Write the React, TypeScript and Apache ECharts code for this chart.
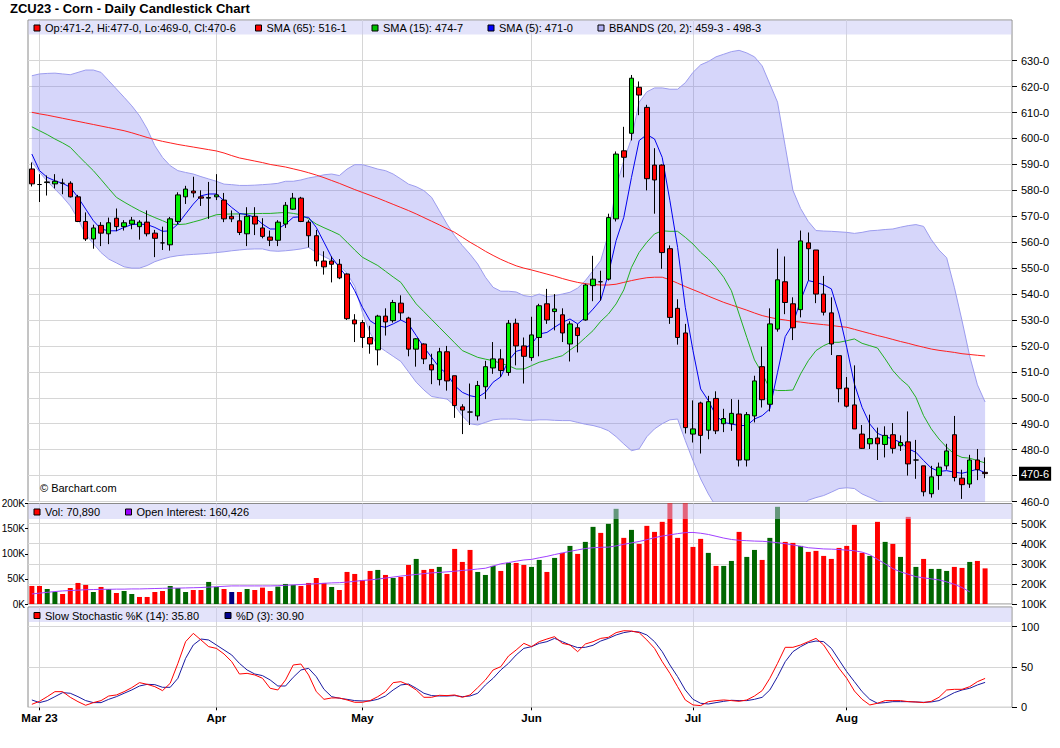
import React, { useEffect, useRef } from "react";
import * as echarts from "echarts";

// ---------- categories ----------
const TRADING_DAYS: [string, number[]][] = [
  ["2023-02", [28]],
  ["2023-03", [1, 2, 3, 6, 7, 8, 9, 10, 13, 14, 15, 16, 17, 20, 21, 22, 23, 24, 27, 28, 29, 30, 31]],
  ["2023-04", [3, 4, 5, 6, 10, 11, 12, 13, 14, 17, 18, 19, 20, 21, 24, 25, 26, 27, 28]],
  ["2023-05", [1, 2, 3, 4, 5, 8, 9, 10, 11, 12, 15, 16, 17, 18, 19, 22, 23, 24, 25, 26, 30, 31]],
  ["2023-06", [1, 2, 5, 6, 7, 8, 9, 12, 13, 14, 15, 16, 20, 21, 22, 23, 26, 27, 28, 29, 30]],
  ["2023-07", [3, 5, 6, 7, 10, 11, 12, 13, 14, 17, 18, 19, 20, 21, 24, 25, 26, 27, 28, 31]],
  ["2023-08", [1, 2, 3, 4, 7, 8, 9, 10, 11, 14, 15, 16, 17, 18, 21, 22, 23, 24, 25]],
];
const DATES: string[] = TRADING_DAYS.flatMap(([m, ds]) => ds.map((d) => `${m}-${String(d).padStart(2, "0")}`));
const PAD_CATEGORIES = ["pad-1", "pad-2", "pad-3"];
const CATEGORIES = [...DATES, ...PAD_CATEGORIES];
const MONTH_NAMES = ["Jan", "Feb", "Mar", "Apr", "May", "Jun", "Jul", "Aug", "Sep", "Oct", "Nov", "Dec"];

// ---------- axis tick values ----------
const PRICE_TICKS = [460, 470, 480, 490, 500, 510, 520, 530, 540, 550, 560, 570, 580, 590, 600, 610, 620, 630];
const VOL_TICKS = [0, 50000, 100000, 150000, 200000];
const OI_TICKS = [100, 200, 300, 400, 500];
const STOCH_TICKS = [0, 50, 100];

// ---------- price data ----------
const OPEN = [
  588.25, 582.25, 583, 582.5, 582.75, 582.75, 577.5, 568, 561.25, 566.5,
  563.25, 569.25, 566, 567, 566, 567.75, 563.5, 559.75, 559, 568,
  577.5, 579.75, 577.5, 577, 577.5, 576.25, 570, 568.25, 563.25, 570,
  565.5, 562, 560.75, 567, 572.75, 577, 567.75, 562.5, 552.75, 552.75,
  551.5, 547.75, 530, 529, 523.25, 518.5, 531.5, 529.75, 536.5, 530.75,
  518.75, 520.75, 512.75, 507, 517.75, 508.5, 496.5, 494.5, 493, 504.25,
  511.5, 515, 509.75, 528.75, 520, 515.5, 523.25, 536.25, 533.25, 532,
  520.75, 527, 530, 543.25, 544.75, 545.75, 569, 595.25, 602, 619.75,
  612, 589.75, 589.75, 557.5, 534.5, 525, 486, 498, 487.5, 499.75,
  490, 490, 493.75, 476, 493, 512, 497.5, 526.5, 544.75, 536.25,
  534, 559.75, 557, 540, 532.75, 516.25, 503.75, 497.25, 486, 482.25,
  484.5, 482, 485.75, 481.5, 483, 476, 473.75, 463, 470, 473.75,
  485.75, 469, 466.75, 476, 471.25,
];
const HIGH = [
  590.75, 586.25, 585.75, 586.25, 584.5, 583.5, 578.25, 571.5, 566.75, 567.75,
  569.5, 573, 568.5, 569.75, 568.5, 572.25, 564.75, 566, 569.75, 579.25,
  581.75, 585.25, 580, 583.25, 586.25, 579, 572.25, 571, 573.5, 573.5,
  569.25, 564.5, 568.5, 575.5, 579, 577.5, 568.5, 564.75, 556.5, 554.5,
  553.5, 548, 532.25, 530, 527.75, 532, 534.5, 537.75, 539.5, 531.25,
  523, 521, 517, 519.25, 520, 508.5, 497.5, 505.5, 506.5, 514.25,
  521.5, 518.75, 530, 530.5, 523.25, 531.25, 536.25, 542, 540, 534.5,
  529.5, 528.5, 544, 554.75, 549, 571, 595, 604.5, 624.5, 622,
  613, 596.25, 590, 558.75, 538, 528.5, 499, 498.5, 500.75, 502.5,
  495.75, 499.5, 499.25, 494.5, 508.5, 519.75, 534.5, 557.5, 554.5, 538.75,
  564.5, 563.75, 557, 547, 538.75, 516.25, 508, 512.5, 489.5, 493.5,
  488.5, 489, 490.25, 485.5, 494.75, 483.75, 473.75, 473.75, 475, 482.25,
  493, 472.25, 478, 480.25, 477,
];
const LOW = [
  581.5, 575.5, 578, 580.75, 578.5, 577.25, 567.75, 560.5, 557.5, 558.5,
  559.25, 564.25, 564.5, 565, 561, 562.25, 554.25, 557, 556.75, 567,
  574.75, 577.25, 574, 569, 576.25, 567.75, 567.75, 562.75, 558.5, 562.75,
  561.5, 558.5, 558.5, 565.5, 572.5, 567.75, 558, 550.75, 547.5, 544.5,
  545.75, 530, 521.5, 519.25, 517, 512.5, 524, 529, 530, 516,
  512, 513, 505.25, 504.75, 502.75, 492.25, 486, 489.5, 491.25, 499.5,
  509.25, 508, 508.5, 512.5, 505.5, 514.25, 516, 528.5, 526, 521.5,
  514, 517.5, 529.75, 537.25, 537.5, 545.25, 568, 585, 599.25, 609,
  580, 571, 549.75, 528.5, 520.5, 486.25, 482.75, 478.5, 484, 486,
  486.75, 487.25, 473.5, 473.5, 490.5, 496.25, 494.75, 525.5, 532.25, 522.25,
  531, 545.25, 536.5, 531.75, 516.5, 498.25, 496.25, 488, 480.25, 480.25,
  476, 477, 478.5, 479.5, 470, 468.75, 462, 461.5, 464.5, 472.25,
  467.75, 461, 465.25, 468.25, 469,
];
const CLOSE = [
  582.5, 582.25, 583.25, 583.5, 582.75, 577.5, 568, 561.25, 565.5, 563.5,
  567.5, 566, 567.5, 568.5, 567.75, 563.25, 561.5, 559.75, 569, 578.25,
  580.5, 579, 577, 577.25, 578.25, 569, 569, 563.75, 570, 567,
  562.25, 560.75, 567.75, 574.25, 577, 568, 562.5, 552.75, 550.5, 551.5,
  546.25, 530.5, 528.5, 523.25, 520.75, 531.5, 529.25, 536.75, 532.75, 518.75,
  522.75, 515, 510.75, 517.75, 506.5, 497, 495.25, 494.5, 504.75, 512,
  515, 510.5, 528.75, 520, 516, 524.25, 535.5, 530, 534.25, 525,
  528.5, 524, 543.5, 545.75, 544.75, 569.5, 594, 592.75, 623.25, 616.75,
  584.5, 584, 556, 531, 523.25, 488.5, 488, 485.5, 498.5, 487.25,
  492, 494, 476, 493.5, 506.5, 499.25, 528.5, 545.5, 536.75, 527,
  560.5, 557.5, 540, 533, 520.75, 503.5, 496.75, 488, 480.5, 484.25,
  482.25, 485.5, 480.5, 482.75, 474.5, 476, 463.75, 469.5, 473.25, 479.5,
  469.25, 466.5, 476, 472.25, 470.75,
];

// ---------- studies ----------
const SMA65 = [
  610.1, 609.5, 609.0, 608.4, 607.8, 607.2, 606.6, 606.0, 605.4, 604.8,
  604.2, 603.6, 603.0, 602.2, 601.3, 600.4, 599.6, 598.9, 598.3, 597.7,
  597.2, 596.7, 596.2, 595.7, 595.2, 594.4, 593.4, 592.5, 591.9, 591.3,
  590.7, 590.0, 589.5, 589.0, 588.3, 587.6, 586.8, 585.9, 584.9, 583.8,
  582.7, 581.5, 580.3, 579.2, 578.1, 577.0, 575.8, 574.6, 573.4, 572.2,
  570.9, 569.5, 568.1, 566.7, 565.2, 563.8, 561.9, 560.0, 558.3, 556.5,
  554.9, 553.4, 552.1, 550.9, 550.0, 549.3, 548.5, 547.7, 546.9, 546.0,
  545.2, 544.5, 544.0, 543.7, 543.5, 543.5, 543.8, 544.5, 545.2, 545.8,
  546.3, 546.5, 546.5, 545.5, 544.2, 542.9, 541.7, 540.5, 539.2, 538.0,
  536.8, 535.8, 534.8, 533.8, 532.7, 531.7, 531.0, 530.4, 530.0, 529.5,
  529.2, 528.8, 528.5, 528.2, 527.9, 527.5, 527.2, 526.4, 525.6, 524.8,
  524.0, 523.3, 522.5, 521.7, 521.0, 520.2, 519.5, 518.8, 518.3, 517.9,
  517.5, 517.0, 516.7, 516.4, 516.125,
];
const SMA15 = [
  604.5, 603.0, 601.5, 599.8, 598.3, 596.6, 593.5, 590.5, 587.6, 584.2,
  580.7, 577.3, 575.5, 573.8, 572.2, 570.8, 569.5, 568.3, 567.0, 566.8,
  567.0, 567.8, 568.6, 569.6, 570.6, 570.8, 570.9, 570.9, 571.0, 571.0,
  571.1, 571.1, 571.3, 571.5, 571.1, 570.6, 569.0, 567.0, 565.6, 564.3,
  562.9, 560.0, 557.0, 554.2, 552.6, 551.0, 548.8, 546.6, 544.5, 540.3,
  536.2, 533.2, 530.2, 527.2, 524.2, 521.2, 518.2, 516.9, 515.6, 514.9,
  514.3, 513.3, 512.4, 511.1, 511.1, 512.4, 513.7, 514.5, 515.4, 516.2,
  518.4, 520.5, 523.2, 525.9, 529.5, 532.3, 536.2, 541.6, 550.3, 556.1,
  560.0, 563.2, 564.4, 564.2, 564.2, 561.9, 559.3, 556.1, 553.5, 550.3,
  546.5, 541.3, 532.3, 523.3, 514.6, 509.5, 503.4, 502.8, 502.8, 503.0,
  509.2, 514.3, 518.2, 520.1, 521.4, 521.4, 522.0, 522.7, 521.0, 520.1,
  519.2, 515.0, 510.5, 507.2, 504.7, 500.2, 493.1, 488.0, 484.1, 480.9,
  478.3, 477.0, 476.7, 475.8, 474.875,
];
const SMA5 = [
  594.0, 587.6, 585.0, 583.7, 582.7, 581.2, 577.3, 572.8, 568.3, 565.1,
  564.4, 564.4, 565.7, 566.8, 567.0, 566.8, 565.7, 564.2, 564.4, 567.0,
  570.9, 574.7, 577.9, 578.6, 578.6, 576.0, 573.4, 571.1, 570.6, 569.6,
  567.0, 565.1, 565.1, 567.0, 569.6, 569.8, 569.6, 565.7, 560.0, 554.2,
  550.3, 546.5, 541.3, 534.9, 529.7, 527.8, 527.2, 528.5, 530.0, 528.5,
  524.0, 519.5, 515.6, 511.7, 509.2, 504.7, 502.1, 500.8, 500.2, 502.1,
  506.0, 508.1, 514.3, 517.9, 518.8, 520.7, 524.6, 525.2, 527.2, 529.1,
  530.4, 528.5, 531.0, 534.2, 537.7, 547.7, 560.6, 569.6, 585.0, 599.2,
  601.5, 599.8, 592.7, 576.0, 558.0, 534.9, 518.2, 503.4, 498.9, 493.1,
  490.5, 489.9, 489.3, 489.3, 491.8, 493.1, 495.7, 509.8, 523.6, 528.5,
  537.5, 545.2, 544.5, 543.6, 542.0, 532.3, 519.5, 505.3, 496.3, 489.9,
  486.3, 485.0, 484.1, 482.8, 480.3, 479.0, 475.8, 472.9, 471.6, 471.9,
  471.3, 470.9, 471.6, 472.5, 471.0,
];
const BB_UPPER = [
  624.2, 624.9, 625.1, 625.2, 624.9, 624.6, 625.5, 626.4, 626.4, 625.5,
  622.3, 619.1, 615.9, 612.6, 608.8, 603.7, 597.2, 592.7, 589.5, 587.6,
  586.9, 586.3, 585.3, 584.4, 583.5, 582.4, 582.2, 581.9, 581.9, 582.0,
  582.2, 582.4, 582.7, 583.5, 583.5, 584.0, 584.8, 585.3, 586.0, 586.3,
  585.7, 588.2, 589.9, 589.9, 589.1, 588.2, 587.6, 586.3, 584.4, 582.4,
  581.4, 579.9, 577.3, 572.2, 567.0, 562.5, 558.7, 555.4, 551.6, 546.5,
  542.6, 541.1, 541.1, 540.8, 539.4, 539.0, 540.0, 539.0, 539.4, 540.0,
  540.7, 542.3, 545.2, 549.0, 552.9, 563.2, 581.2, 591.4, 600.0, 614.0,
  618.0, 619.5, 619.5, 619.0, 619.0, 621.5, 625.5, 628.4, 629.7, 631.5,
  632.5, 633.5, 634.0, 633.0, 631.5, 628.0, 621.0, 614.0, 597.0, 580.0,
  573.0, 568.0, 564.5, 564.3, 564.2, 564.0, 563.8, 563.4, 563.8, 564.4,
  564.6, 564.9, 565.1, 565.8, 566.4, 566.8, 566.1, 561.0, 557.0, 554.0,
  542.6, 529.7, 516.0, 505.0, 498.375,
];
const BB_LOWER = [
  591.0, 587.0, 583.5, 580.5, 577.5, 574.0, 569.0, 563.0, 559.5, 556.0,
  553.5, 552.0, 550.5, 550.0, 550.0, 551.0, 552.5, 553.5, 554.3, 554.8,
  555.1, 555.3, 555.5, 555.7, 556.0, 556.3, 556.7, 557.0, 557.3, 557.4,
  557.4, 556.7, 556.5, 556.7, 557.0, 557.4, 558.0, 556.0, 554.5, 553.0,
  551.0, 548.0, 543.0, 533.0, 525.0, 520.0, 518.0, 516.0, 514.0, 510.0,
  506.0, 503.0, 500.5, 500.0, 499.5, 497.0, 493.0, 490.0, 489.5, 490.5,
  491.5, 491.8, 491.8, 491.8, 491.4, 491.3, 491.5, 491.5, 491.3, 491.2,
  491.2, 490.5, 489.8, 489.3, 488.5, 487.3, 485.0, 482.2, 479.6, 480.3,
  485.0, 488.0, 490.0, 491.5, 491.8, 483.5, 475.8, 468.7, 462.9, 458.0,
  453.0, 449.0, 445.0, 443.0, 443.0, 444.0, 446.0, 449.0, 452.0, 455.0,
  458.0, 460.5, 461.5, 462.3, 463.6, 465.0, 465.3, 465.0, 462.9, 461.6,
  460.2, 459.5, 458.5, 457.8, 457.0, 456.0, 455.0, 454.5, 454.5, 455.0,
  455.5, 456.5, 457.5, 458.5, 459.375,
];

// ---------- volume / open interest ----------
const VOLUME = [
  35900, 35900, 29900, 23900, 19900, 31900, 41900, 37900, 23900, 33900,
  29900, 21900, 25900, 19900, 14000, 14000, 23900, 25900, 35900, 31900,
  23900, 27900, 27900, 43900, 33900, 29900, 23900, 23900, 29900, 27900,
  32600, 25900, 34600, 39900, 37900, 35900, 41900, 51800, 41900, 33900,
  27900, 63800, 59800, 47800, 65800, 67800, 57800, 51800, 53800, 77700,
  89700, 67800, 69800, 73800, 59800, 109600, 83700, 107600, 63800, 57800,
  75800, 65800, 81700, 81700, 77700, 73800, 87700, 63800, 91700, 101700,
  115600, 99700, 123600, 153500, 141500, 159500, 189400, 131600, 147500, 119600,
  155500, 143500, 163500, 215000, 131600, 212000, 113600, 129600, 101700, 75800,
  75800, 85700, 143500, 93700, 107600, 87700, 131600, 193400, 123600, 121600,
  115600, 103700, 105700, 95700, 89700, 111600, 115600, 157500, 101700, 95700,
  163500, 123600, 119600, 93700, 173400, 73800, 89700, 69800, 69800, 65800,
  73800, 71800, 83700, 85700, 70890,
];
// u = close up, d = close down, n = unchanged
const VOLUME_DIRECTION =
  "dduuddddud" + "uduudddduu" + "udduudndud" + "dduuuddddu" + "dddddududd" +
  "uddudddduu" + "ududduudud" + "uduuduudud" + "ddddddddud" + "uuduuduudd" +
  "uddddddddu" + "dudududuuu" + "ddudd";
const OPEN_INTEREST_K = [
  150, 154, 158, 162, 165, 167, 169, 171, 172, 173,
  173, 174, 174, 175, 175, 176, 177, 178, 179, 179,
  180, 181, 182, 184, 186, 188, 190, 190, 190, 190,
  190, 190, 191, 193, 195, 197, 199, 201, 203, 205,
  206, 209, 213, 217, 220, 224, 229, 234, 239, 243,
  247, 251, 255, 257, 260, 263, 267, 270, 274, 278,
  289, 300, 306, 313, 319, 322, 330, 337, 346, 354,
  362, 369, 376, 380, 382, 383, 389, 397, 404, 411,
  420, 430, 438, 444, 450, 455, 456, 452, 446, 437,
  428, 421, 417, 415, 413, 412, 409, 405, 400, 394,
  387, 380, 377, 374, 373, 371, 368, 365, 358, 345,
  322, 300, 276, 260, 248, 236, 230, 225, 220, 210,
  198, 182, 160.426,
];

// ---------- stochastics ----------
const STOCH_K = [
  3.7, 7.4, 13.2, 19.4, 19.4, 12.4, 7, 2.5, 5.8, 8.3,
  14, 15.3, 19.4, 24.4, 30.6, 28.5, 25.6, 20.7, 29.8, 54.5,
  81.4, 91.7, 83.5, 75.2, 73.1, 66.1, 56.6, 41.3, 42.1, 40.1,
  36, 23.6, 21.5, 33.9, 52.5, 53.7, 40.1, 19.4, 9.9, 11.6,
  11.6, 9.1, 6.2, 6.2, 8.3, 13.2, 19.4, 30.6, 31.8, 27.7,
  21.5, 12.4, 12.4, 14.9, 14.5, 15.3, 12.4, 15.3, 24.4, 33.9,
  46.3, 50.4, 63.6, 71.1, 79.3, 75.2, 81.4, 84.7, 87.6, 79.3,
  77.3, 69, 78.5, 81.4, 85.5, 86.8, 92.6, 95, 94.6, 92.6,
  83.5, 73.1, 56.6, 42.1, 25.6, 9.1, 2.9, 2.1, 7, 8.3,
  9.1, 8.3, 7.4, 9.1, 14, 20.7, 36, 54.5, 74.4, 74.4,
  77.3, 81.4, 85.5, 77.3, 62.8, 48.3, 36, 20.2, 9.9, 2.9,
  5, 8.3, 8.3, 8.3, 7, 6.6, 5.8, 7.4, 12.4, 21.5,
  22.3, 22.3, 25.6, 31.8, 35.8,
];
const STOCH_D = [
  9.1, 5.8, 8.3, 13.2, 18.2, 17.4, 13.2, 8.3, 5.8, 5.8,
  9.9, 13.2, 17.4, 21.5, 26.4, 28.5, 28.1, 24.8, 24.8, 36,
  60.7, 77.3, 84.7, 83.5, 77.3, 71.1, 64.9, 54.5, 46.3, 41.3,
  39.3, 33.9, 26.4, 26.4, 37.2, 46.3, 48.3, 38, 22.3, 13.2,
  11.2, 9.9, 8.3, 7.9, 7.9, 9.9, 14, 21.5, 27.7, 28.9,
  23.6, 17.4, 14.5, 14, 14, 14.5, 13.2, 14, 17.4, 27.7,
  36, 46.3, 54.5, 64.9, 73.1, 75.2, 79.3, 81.4, 85.5, 81.4,
  77.3, 74, 74.4, 76.9, 82.2, 85.5, 89.7, 92.6, 94.2, 93.4,
  89.7, 81.4, 69, 52.5, 38, 21.5, 9.9, 5, 4.1, 5.8,
  7.4, 8.7, 8.3, 8.3, 9.9, 12.4, 21.5, 38, 56.6, 69,
  75.2, 80.2, 82.2, 81.4, 73.1, 58.7, 44.2, 31.8, 19.4, 9.9,
  5, 5.8, 7, 7, 7, 6.6, 6.2, 6.6, 8.3, 13.2,
  18.2, 21.5, 23.6, 27.7, 30.9,
];

// ---------- styles ----------
const FONT = '"Liberation Sans", Arial, Helvetica, sans-serif';
const GRID_LINE = "#d6d6d6";
const BORDER = "#8a8a8a";
const BAND = "rgba(200,200,245,0.5)";
const BB_EDGE = "#9c9cee";
const C_UP = "#00ee00";
const C_DOWN = "#ff0000";
const VOL_COLOR: Record<string, string> = { u: "#006600", d: "#ff0000", n: "#000080" };
const SMA65_C = "#ff2020";
const SMA15_C = "#22b022";
const SMA5_C = "#0000ee";
const OI_C = "#a040ff";
const K_C = "#ff0000";
const D_C = "#1a1aa0";

const fmt8 = (v: number) => {
  let w = Math.floor(v + 1e-9);
  let e = Math.round((v - w) * 8);
  if (e === 8) { w += 1; e = 0; }
  return `${w}-${e}`;
};

const MONTH_TICKS: Record<number, string> = {};
DATES.forEach((d, i) => {
  if (i === 0) return;
  if (d.slice(5, 7) !== DATES[i - 1].slice(5, 7)) {
    const m = MONTH_NAMES[Number(d.slice(5, 7)) - 1];
    MONTH_TICKS[i] = Object.keys(MONTH_TICKS).length === 0 ? `${m} ${d.slice(2, 4)}` : m;
  }
});
const isMonthTick = (i: number) => MONTH_TICKS[i] !== undefined;

function buildOption() {
  const last = DATES.length - 1;
  const gridLineMark = () => ({
    silent: true,
    z: 1,
    symbol: ["none", "none"],
    label: { show: false },
    emphasis: { disabled: true },
    lineStyle: { color: GRID_LINE, width: 1, type: "solid" },
    data: Object.keys(MONTH_TICKS).map((k) => ({ xAxis: CATEGORIES[Number(k)] })),
  });
  const lineBase = {
    type: "line",
    symbol: "none",
    showSymbol: false,
    silent: true,
    emphasis: { disabled: true },
  };
  const legendItem = (x: number, y: number, color: string, text: string) => [
    {
      type: "rect", z: 100, silent: true,
      shape: { x: x + 0.5, y: y - 3, width: 6, height: 6 },
      style: { fill: color, stroke: "#000", lineWidth: 1 },
    },
    {
      type: "text", z: 100, silent: true, x: x + 11.5, y,
      style: { text, fill: "#000", font: `11px ${FONT}`, textVerticalAlign: "middle" },
    },
  ];
  const axisLabelBase = { color: "#000", fontSize: 11, fontFamily: FONT };
  const gridBase = {
    left: 28, right: 48, show: true, borderColor: BORDER, borderWidth: 1,
    containLabel: false, outerBoundsMode: "none",
  };
  const xBase = {
    type: "category",
    data: CATEGORIES,
    boundaryGap: true,
  };

  return {
    animation: false,
    backgroundColor: "#ffffff",
    textStyle: { fontFamily: FONT },
    grid: [
      { ...gridBase, top: 20, height: 481.5 },
      { ...gridBase, top: 503.5, height: 100.5 },
      { ...gridBase, top: 607, height: 100.3 },
    ],
    xAxis: [
      { ...xBase, gridIndex: 0, show: false },
      { ...xBase, gridIndex: 1, show: false },
      {
        ...xBase, gridIndex: 2,
        axisLine: { show: false },
        splitLine: { show: false },
        axisTick: { show: true, interval: (i: number) => isMonthTick(i), alignWithLabel: true, length: 3, lineStyle: { color: "#000" } },
        axisLabel: {
          ...axisLabelBase, fontSize: 11.5, fontWeight: "bold", margin: 5,
          interval: (i: number) => isMonthTick(i),
          formatter: (_v: string, i: number) => MONTH_TICKS[i] ?? "",
        },
      },
    ],
    yAxis: [
      {
        type: "value", gridIndex: 0, position: "right", min: 460, max: 645.7, interval: 10,
        axisLine: { show: false },
        axisTick: { show: true, length: 5, customValues: PRICE_TICKS, lineStyle: { color: "#000" } },
        axisLabel: { ...axisLabelBase, margin: 9, customValues: PRICE_TICKS, formatter: (v: number) => (v > 635 ? "" : `${v}-0`) },
        splitLine: { show: true, lineStyle: { color: GRID_LINE, width: 1 } },
      },
      {
        type: "value", gridIndex: 1, position: "left", min: 0, max: 200000, interval: 50000,
        axisLine: { show: false },
        axisTick: { show: true, length: 3, customValues: VOL_TICKS, lineStyle: { color: "#000" } },
        axisLabel: { ...axisLabelBase, fontSize: 10, margin: 3, customValues: VOL_TICKS, formatter: (v: number) => `${v / 1000}K` },
        splitLine: { show: false },
      },
      {
        type: "value", gridIndex: 1, position: "right", min: 100, max: 600, interval: 100,
        axisLine: { show: false },
        axisTick: { show: true, length: 5, customValues: OI_TICKS, lineStyle: { color: "#000" } },
        axisLabel: { ...axisLabelBase, margin: 9, customValues: OI_TICKS, formatter: (v: number) => (v >= 600 ? "" : `${v}K`) },
        splitLine: { show: true, lineStyle: { color: GRID_LINE, width: 1 } },
      },
      {
        type: "value", gridIndex: 2, position: "right", min: 0, max: 124.4, interval: 50,
        axisLine: { show: false },
        axisTick: { show: true, length: 5, customValues: STOCH_TICKS, lineStyle: { color: "#000" } },
        axisLabel: { ...axisLabelBase, margin: 9, customValues: STOCH_TICKS, formatter: (v: number) => (v > 100 ? "" : String(v)) },
        splitLine: { show: true, lineStyle: { color: GRID_LINE, width: 1 } },
      },
    ],
    series: [
      {
        ...lineBase, name: "BB lower", xAxisIndex: 0, yAxisIndex: 0, stack: "bb",
        data: BB_LOWER, lineStyle: { color: BB_EDGE, width: 1 }, z: 2,
        markLine: gridLineMark(),
      },
      {
        ...lineBase, name: "BB upper", xAxisIndex: 0, yAxisIndex: 0, stack: "bb",
        data: BB_UPPER.map((u, i) => Math.round((u - BB_LOWER[i]) * 1000) / 1000),
        lineStyle: { color: BB_EDGE, width: 1 },
        areaStyle: { color: "rgb(120,120,240)", opacity: 0.3 }, z: 2,
      },
      { ...lineBase, name: "SMA65", xAxisIndex: 0, yAxisIndex: 0, data: SMA65, lineStyle: { color: SMA65_C, width: 1 }, z: 3 },
      { ...lineBase, name: "SMA15", xAxisIndex: 0, yAxisIndex: 0, data: SMA15, lineStyle: { color: SMA15_C, width: 1 }, z: 3 },
      { ...lineBase, name: "SMA5", xAxisIndex: 0, yAxisIndex: 0, data: SMA5, lineStyle: { color: SMA5_C, width: 1 }, z: 3 },
      {
        type: "candlestick", name: "ZCU23", xAxisIndex: 0, yAxisIndex: 0, silent: true, z: 4,
        barWidth: 5,
        data: OPEN.map((o, i) => [o, CLOSE[i], LOW[i], HIGH[i]]),
        itemStyle: {
          color: C_UP, color0: C_DOWN, borderColor: "#000", borderColor0: "#000",
          borderColorDoji: "#000", borderWidth: 1,
        },
        emphasis: { disabled: true },
        markLine: {
          silent: true, z: 6, symbol: ["none", "none"],
          lineStyle: { color: "rgba(0,0,0,0)", width: 1, type: "solid" },
          emphasis: { disabled: true },
          label: {
            show: true, position: "end", distance: 7,
            formatter: fmt8(CLOSE[last]),
            color: "#ffffff", backgroundColor: "#000000", padding: [2, 2, 1, 2],
            fontSize: 11, fontFamily: FONT,
          },
          data: [{ yAxis: CLOSE[last] }],
        },
      },
      {
        type: "bar", name: "Volume", xAxisIndex: 1, yAxisIndex: 1, silent: true, barWidth: 5, z: 2,
        data: VOLUME.map((v, i) => ({ value: v, itemStyle: { color: VOL_COLOR[VOLUME_DIRECTION[i]] } })),
        emphasis: { disabled: true },
        markLine: gridLineMark(),
      },
      { ...lineBase, name: "Open Interest", xAxisIndex: 1, yAxisIndex: 2, data: OPEN_INTEREST_K, lineStyle: { color: OI_C, width: 1 }, z: 3 },
      {
        ...lineBase, name: "%D", xAxisIndex: 2, yAxisIndex: 3, data: STOCH_D, lineStyle: { color: D_C, width: 1 }, z: 2,
        markLine: gridLineMark(),
      },
      { ...lineBase, name: "%K", xAxisIndex: 2, yAxisIndex: 3, data: STOCH_K, lineStyle: { color: K_C, width: 1 }, z: 3 },
    ],
    graphic: [
      { type: "rect", z: 90, silent: true, shape: { x: 28.5, y: 20.5, width: 983, height: 14 }, style: { fill: BAND } },
      { type: "rect", z: 90, silent: true, shape: { x: 28.5, y: 504, width: 983, height: 15 }, style: { fill: BAND } },
      { type: "rect", z: 90, silent: true, shape: { x: 28.5, y: 607.5, width: 983, height: 14.5 }, style: { fill: BAND } },
      {
        type: "text", z: 100, silent: true, x: 10, y: 8.5,
        style: { text: "ZCU23 - Corn - Daily Candlestick Chart", fill: "#000", font: `bold 13px ${FONT}`, textVerticalAlign: "middle" },
      },
      {
        type: "text", z: 100, silent: true, x: 40, y: 488,
        style: { text: "\u00a9 Barchart.com", fill: "#000", font: `11px ${FONT}`, textVerticalAlign: "middle" },
      },
      ...legendItem(33.5, 28, C_DOWN, `Op:${fmt8(OPEN[last])}, Hi:${fmt8(HIGH[last])}, Lo:${fmt8(LOW[last])}, Cl:${fmt8(CLOSE[last])}`),
      ...legendItem(255, 28, "#ff0000", `SMA (65): ${fmt8(SMA65[last])}`),
      ...legendItem(371.5, 28, "#00c000", `SMA (15): ${fmt8(SMA15[last])}`),
      ...legendItem(487.5, 28, "#0000ff", `SMA (5): ${fmt8(SMA5[last])}`),
      ...legendItem(597.5, 28, "#b0b0f4", `BBANDS (20, 2): ${fmt8(BB_LOWER[last])} - ${fmt8(BB_UPPER[last])}`),
      ...legendItem(33.5, 512, "#ff0000", `Vol: ${VOLUME[last].toLocaleString("en-US")}`),
      ...legendItem(125, 512, "#9900ff", `Open Interest: ${Math.round(OPEN_INTEREST_K[OPEN_INTEREST_K.length - 1] * 1000).toLocaleString("en-US")}`),
      ...legendItem(33.5, 615.5, "#ff0000", `Slow Stochastic %K (14): ${STOCH_K[last].toFixed(2)}`),
      ...legendItem(224.5, 615.5, "#000090", `%D (3): ${STOCH_D[last].toFixed(2)}`),
    ],
  };
}

export default function App() {
  const ref = useRef<HTMLDivElement>(null);
  useEffect(() => {
    if (!ref.current) return;
    const chart = echarts.init(ref.current, undefined, { renderer: "svg" });
    chart.setOption(buildOption() as any);
    return () => chart.dispose();
  }, []);
  return (
    <div
      ref={ref}
      style={{ position: "fixed", left: 0, top: 0, width: 1060, height: 748, background: "#fff" }}
    />
  );
}
